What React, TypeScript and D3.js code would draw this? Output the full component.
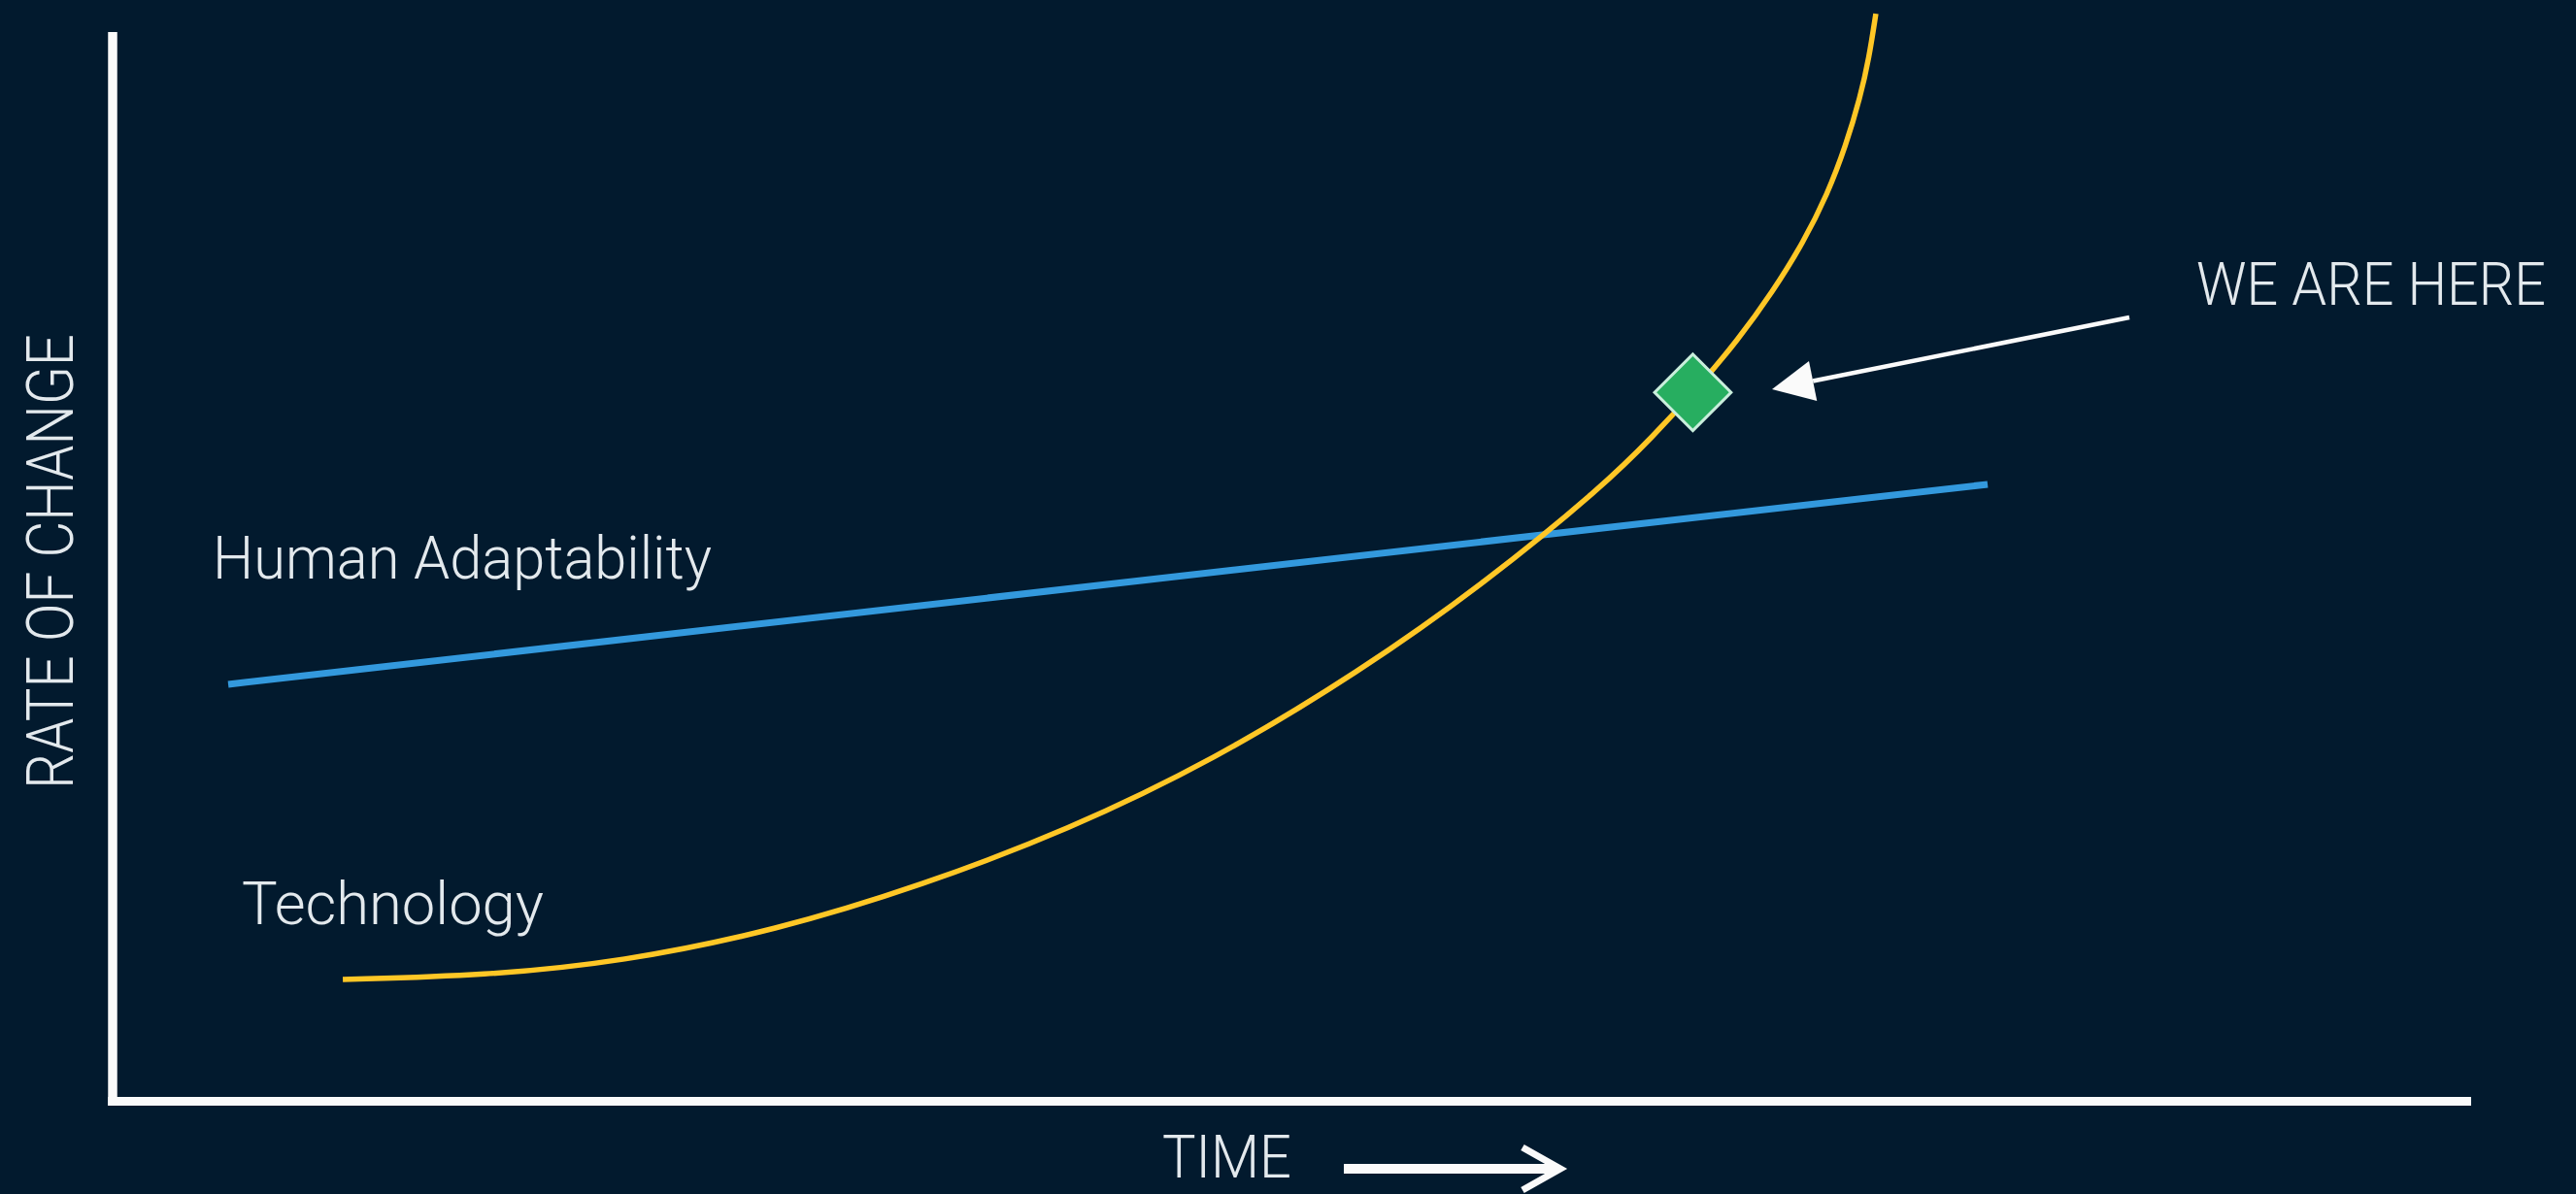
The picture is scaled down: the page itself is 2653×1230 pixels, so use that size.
import React, { useEffect } from "react";
import * as d3 from "d3";

// Data (time on x, rate of change on y, both on a 0–100 scale)
const techTime = [9.76, 15.81, 21.57, 28.16, 34.33, 40.51, 46.68, 52.86, 58.21, 63.23, 65.29, 67.19, 68.92, 70.4, 71.68, 72.71, 73.49, 74.1, 74.47, 74.76];
const techRate = [11.39, 11.76, 13.03, 16.0, 20.2, 25.38, 31.91, 40.17, 48.52, 57.6, 62.14, 66.68, 71.22, 75.76, 80.3, 84.84, 89.38, 93.92, 97.55, 101.72];
const humanTime = [4.9, 79.5];
const humanRate = [39.0, 57.7];
const hereTime = [67.0];
const hereRate = [66.3];
const labels = {
  yAxis: "RATE OF CHANGE",
  xAxis: "TIME",
  human: "Human Adaptability",
  tech: "Technology",
  here: "WE ARE HERE",
};

const W = 2653;
const H = 1230;
const BG = "#021a2e";
const TEXT = "#e3e9ed";
const WHITE = "#fafafa";
const FONT = "Roboto, 'Noto Sans', sans-serif";

export default function App() {
  useEffect(() => {
    document.body.style.margin = "0";
    document.body.style.background = BG;
  }, []);

  const x = d3.scaleLinear().domain([0, 100]).range([116, 2545]);
  const y = d3.scaleLinear().domain([0, 100]).range([1134.5, 33]);

  const techPts: [number, number][] = techTime.map((t, i) => [t, techRate[i]]);
  const humanPts: [number, number][] = humanTime.map((t, i) => [t, humanRate[i]]);

  const line = d3
    .line<[number, number]>()
    .x((d) => x(d[0]))
    .y((d) => y(d[1]))
    .curve(d3.curveBasis);
  const straight = d3
    .line<[number, number]>()
    .x((d) => x(d[0]))
    .y((d) => y(d[1]));

  const diamond = d3.symbol().type(d3.symbolSquare).size(3100)();

  // "WE ARE HERE" pointer
  const tail = [2193, 327];
  const tip = [1825, 401];
  const ang = Math.atan2(tip[1] - tail[1], tip[0] - tail[0]);
  const headLen = 43;
  const headHalf = 21;
  const bx = tip[0] - headLen * Math.cos(ang);
  const by = tip[1] - headLen * Math.sin(ang);
  const px = -Math.sin(ang);
  const py = Math.cos(ang);
  const head = [
    [tip[0], tip[1]],
    [bx + headHalf * px, by + headHalf * py],
    [bx - headHalf * px, by - headHalf * py],
  ]
    .map((p) => p.join(","))
    .join(" ");

  return (
    <svg
      width={W}
      height={H}
      viewBox={`0 0 ${W} ${H}`}
      style={{ position: "absolute", left: 0, top: 0, display: "block" }}
    >
      <rect x={0} y={0} width={W} height={H} fill={BG} />

      {/* axes */}
      <line x1={x(0)} y1={y(100)} x2={x(0)} y2={y(0) + 4.5} stroke={WHITE} strokeWidth={9.5} />
      <line x1={x(0) - 4.75} y1={y(0)} x2={x(100)} y2={y(0)} stroke={WHITE} strokeWidth={9} />

      {/* series */}
      <path d={straight(humanPts) || ""} fill="none" stroke="#3399dd" strokeWidth={7} />
      <path d={line(techPts) || ""} fill="none" stroke="#ffc726" strokeWidth={5.5} />

      {/* we are here marker */}
      <path
        d={diamond || ""}
        transform={`translate(${x(hereTime[0])},${y(hereRate[0])}) rotate(45)`}
        fill="#27ae60"
        stroke="#c9eedc"
        strokeWidth={3}
      />

      {/* pointer arrow */}
      <line x1={tail[0]} y1={tail[1]} x2={bx} y2={by} stroke={WHITE} strokeWidth={4.5} />
      <polygon points={head} fill={WHITE} />

      {/* time arrow */}
      <line x1={1384} y1={1204} x2={1604} y2={1204} stroke={WHITE} strokeWidth={10} />
      <polyline
        points="1568,1182 1607,1204 1568,1226"
        fill="none"
        stroke={WHITE}
        strokeWidth={7}
        strokeLinejoin="miter"
      />

      {/* labels */}
      <g fontFamily={FONT} fontWeight={300} fill={TEXT}>
        <text x={1197} y={1213} fontSize={62} textLength={133} lengthAdjust="spacingAndGlyphs">
          {labels.xAxis}
        </text>
        <text
          transform="translate(75,813) rotate(-90)"
          fontSize={66}
          textLength={469}
          lengthAdjust="spacingAndGlyphs"
        >
          {labels.yAxis}
        </text>
        <text x={219} y={596} fontSize={62} textLength={514} lengthAdjust="spacingAndGlyphs">
          {labels.human}
        </text>
        <text x={249} y={952} fontSize={62} textLength={311} lengthAdjust="spacingAndGlyphs">
          {labels.tech}
        </text>
        <text x={2262} y={314} fontSize={62} textLength={360} lengthAdjust="spacingAndGlyphs">
          {labels.here}
        </text>
      </g>
    </svg>
  );
}
